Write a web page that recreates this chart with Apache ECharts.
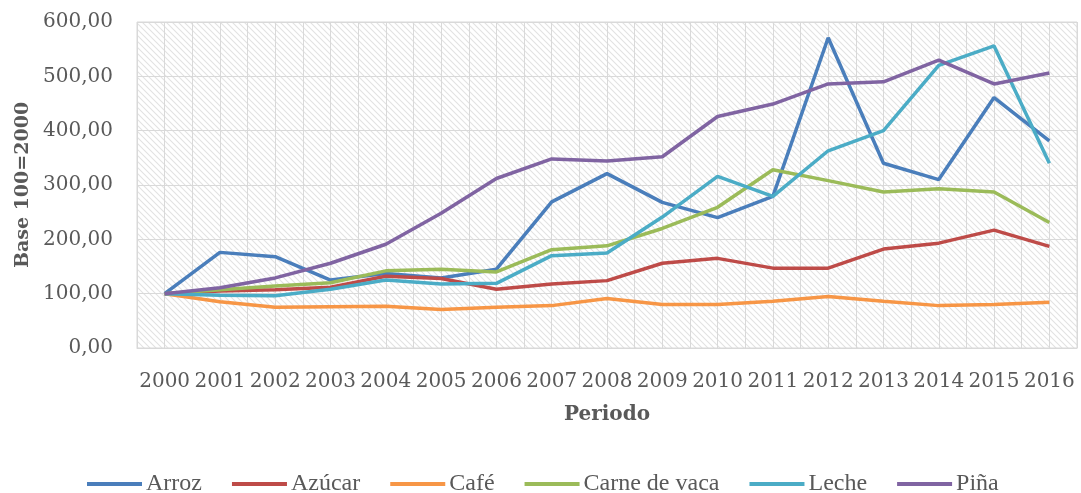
<!DOCTYPE html>
<html>
<head>
<meta charset="utf-8">
<script src="https://cdn.jsdelivr.net/npm/echarts@6/dist/echarts.min.js"></script>
<style>
html,body{margin:0;padding:0;background:#fff;}
#chart{width:1081px;height:493px;}
</style>
</head>
<body>
<div id="chart"></div>
<script>
const years = ['2000','2001','2002','2003','2004','2005','2006','2007','2008','2009','2010','2011','2012','2013','2014','2015','2016'];
const arroz   = [100,176,168,125,137,129,145,269,321,268,240,279,571,340,310,461,381];
const azucar  = [100,105,107,112,132,128,108,118,124,156,165,147,147,182,193,217,187];
const cafe    = [100,85,75,76,77,71,75,78,91,80,80,86,95,86,78,80,84];
const carne   = [100,107,114,120,142,145,140,181,188,220,259,328,308,287,293,287,231];
const leche   = [100,97,96,108,125,118,119,170,175,241,316,279,363,400,520,556,340];
const pina    = [100,111,129,156,191,248,312,348,344,352,426,449,486,490,530,486,506];
const seriesNames = ['Arroz','Azúcar','Café','Carne de vaca','Leche','Piña'];
const yTicks = [0,100,200,300,400,500,600];

const colors = ['#4A7EBB','#BE4B48','#F79646','#9BBB59','#4BACC6','#8064A2'];
const allData = [arroz, azucar, cafe, carne, leche, pina];

// hatch pattern
const pc = document.createElement('canvas');
pc.width = 6; pc.height = 6;
const ctx = pc.getContext('2d');
ctx.fillStyle = '#ffffff';
ctx.fillRect(0,0,6,6);
ctx.strokeStyle = '#e2e2e2';
ctx.lineWidth = 1.1;
ctx.beginPath();
ctx.moveTo(-1,-1); ctx.lineTo(7,7);
ctx.moveTo(-4,2); ctx.lineTo(2,8);
ctx.moveTo(4,-2); ctx.lineTo(8,2);
ctx.stroke();

const labelFont = 'DejaVu Serif';
const chart = echarts.init(document.getElementById('chart'));
chart.setOption({
  animation: false,
  color: colors,
  grid: {
    left: 137, right: 4, top: 22, bottom: 145,
    show: true,
    backgroundColor: {image: pc, repeat: 'repeat'},
    borderColor: '#D9D9D9', borderWidth: 1
  },
  legend: {
    data: seriesNames,
    left: 87, top: 472, padding: 0,
    icon: 'rect',
    itemWidth: 55, itemHeight: 4, itemGap: 30,
    textStyle: {fontFamily: 'Liberation Serif', fontSize: 24, color: '#595959', padding: [0,0,0,-1]}
  },
  xAxis: [{
    type: 'category',
    data: years,
    boundaryGap: true,
    axisLine: {show: true, lineStyle: {color: '#D9D9D9'}},
    axisTick: {show: false},
    splitLine: {show: false},
    axisLabel: {interval: 0, margin: 24, fontFamily: labelFont, fontSize: 20, color: '#595959'},
    name: 'Periodo',
    nameLocation: 'middle',
    nameGap: 57,
    nameTextStyle: {fontFamily: labelFont, fontSize: 20, fontWeight: 'bold', color: '#595959'}
  }, {
    type: 'value',
    min: 0, max: 34, interval: 1,
    position: 'bottom',
    axisLine: {show: false}, axisTick: {show: false}, axisLabel: {show: false},
    splitLine: {show: true, lineStyle: {color: '#D9D9D9', width: 1}}
  }],
  yAxis: {
    type: 'value',
    min: yTicks[0], max: yTicks[yTicks.length-1], interval: 100,
    axisLine: {show: false},
    axisTick: {show: false},
    splitLine: {show: true, lineStyle: {color: '#D9D9D9', width: 1}},
    axisLabel: {margin: 24, fontFamily: labelFont, fontSize: 20, color: '#595959',
      formatter: v => v.toFixed(2).replace('.', ',')},
    name: 'Base 100=2000',
    nameLocation: 'middle',
    nameGap: 87,
    nameTextStyle: {fontFamily: labelFont, fontSize: 19, fontWeight: 'bold', color: '#595959'}
  },
  series: seriesNames.map((n, i) => ({
    name: n,
    type: 'line',
    xAxisIndex: 0,
    data: allData[i],
    symbol: 'none',
    lineStyle: {width: 3.5, color: colors[i]},
    itemStyle: {color: colors[i]}
  }))
});
</script>
</body>
</html>
